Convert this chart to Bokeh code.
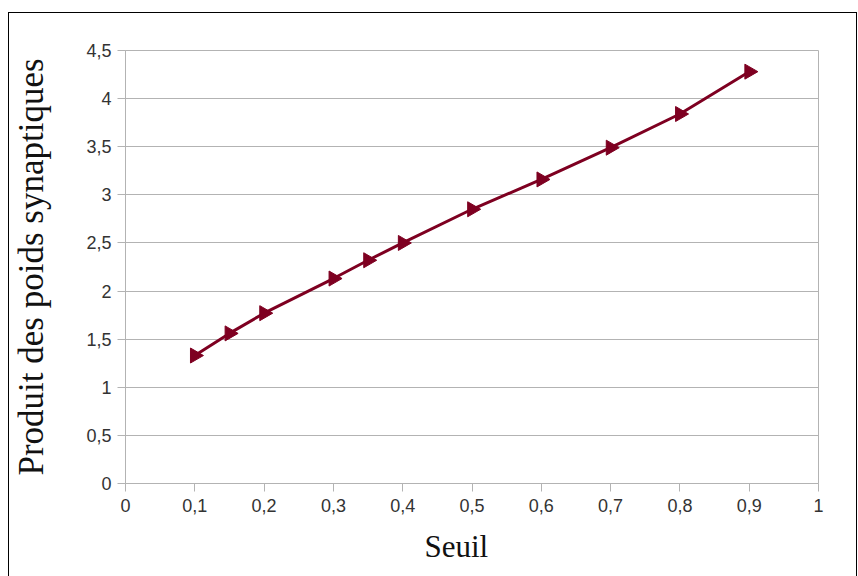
import math
from bokeh.plotting import figure
from bokeh.models import Range1d, FixedTicker, Title
from bokeh.embed import file_html
from bokeh.resources import INLINE

# Data
seuil = [0.1, 0.15, 0.2, 0.3, 0.35, 0.4, 0.5, 0.6, 0.7, 0.8, 0.9]
produit = [1.33, 1.56, 1.77, 2.13, 2.32, 2.50, 2.85, 3.16, 3.49, 3.84, 4.28]

x_ticks = [0, 0.1, 0.2, 0.3, 0.4, 0.5, 0.6, 0.7, 0.8, 0.9, 1]
x_tick_labels = ["0", "0,1", "0,2", "0,3", "0,4", "0,5", "0,6", "0,7", "0,8", "0,9", "1"]
y_ticks = [0, 0.5, 1, 1.5, 2, 2.5, 3, 3.5, 4, 4.5]
y_tick_labels = ["0", "0,5", "1", "1,5", "2", "2,5", "3", "3,5", "4", "4,5"]
x_label = "Seuil"
y_label = "Produit des poids synaptiques"

GRID = "#b3b3b3"
LINE = "#7e0021"

p = figure(width=849, height=564, output_backend="svg", toolbar_location=None,
           x_range=Range1d(0, 1), y_range=Range1d(0, 4.5),
           min_border_left=114, min_border_right=40, min_border_top=37,
           min_border_bottom=94, margin=(12, 0, 0, 8),
           styles={"border-left": "1px solid black", "border-top": "1px solid black",
                   "border-right": "1px solid black"})

p.background_fill_color = "white"
p.border_fill_color = "white"
p.outline_line_color = GRID
p.outline_line_width = 1

p.xaxis.ticker = FixedTicker(ticks=x_ticks)
p.yaxis.ticker = FixedTicker(ticks=y_ticks)
p.xaxis.major_label_overrides = dict(zip(x_ticks, x_tick_labels))
p.yaxis.major_label_overrides = dict(zip(y_ticks, y_tick_labels))

for ax in (p.xaxis, p.yaxis):
    ax.axis_line_color = GRID
    ax.major_tick_line_color = GRID
    ax.major_tick_out = 8
    ax.major_tick_in = 0
    ax.minor_tick_line_color = None
    ax.major_label_text_font = "Liberation Sans"
    ax.major_label_text_font_size = "18px"
    ax.major_label_text_color = "#333333"

p.xaxis.major_label_standoff = 7
p.yaxis.major_label_standoff = 6

p.yaxis.axis_label = y_label
p.yaxis.axis_label_text_font = "Liberation Serif"
p.yaxis.axis_label_text_font_size = "35px"
p.yaxis.axis_label_text_font_style = "normal"
p.yaxis.axis_label_text_color = "#111111"
p.yaxis.axis_label_standoff = 32

xt = Title(text=x_label, align="left", offset=299, standoff=25,
           text_font="Liberation Serif", text_font_size="31px",
           text_font_style="normal", text_color="#111111")
p.add_layout(xt, "below")

p.xgrid.grid_line_color = None
p.ygrid.grid_line_color = GRID
p.ygrid.grid_line_width = 1

p.line(seuil, produit, line_color=LINE, line_width=3)
p.scatter(seuil, produit, marker="triangle", angle=-math.pi / 2, size=15,
          fill_color=LINE, line_color=LINE)

open("out.html", "w").write(file_html(p, INLINE))
